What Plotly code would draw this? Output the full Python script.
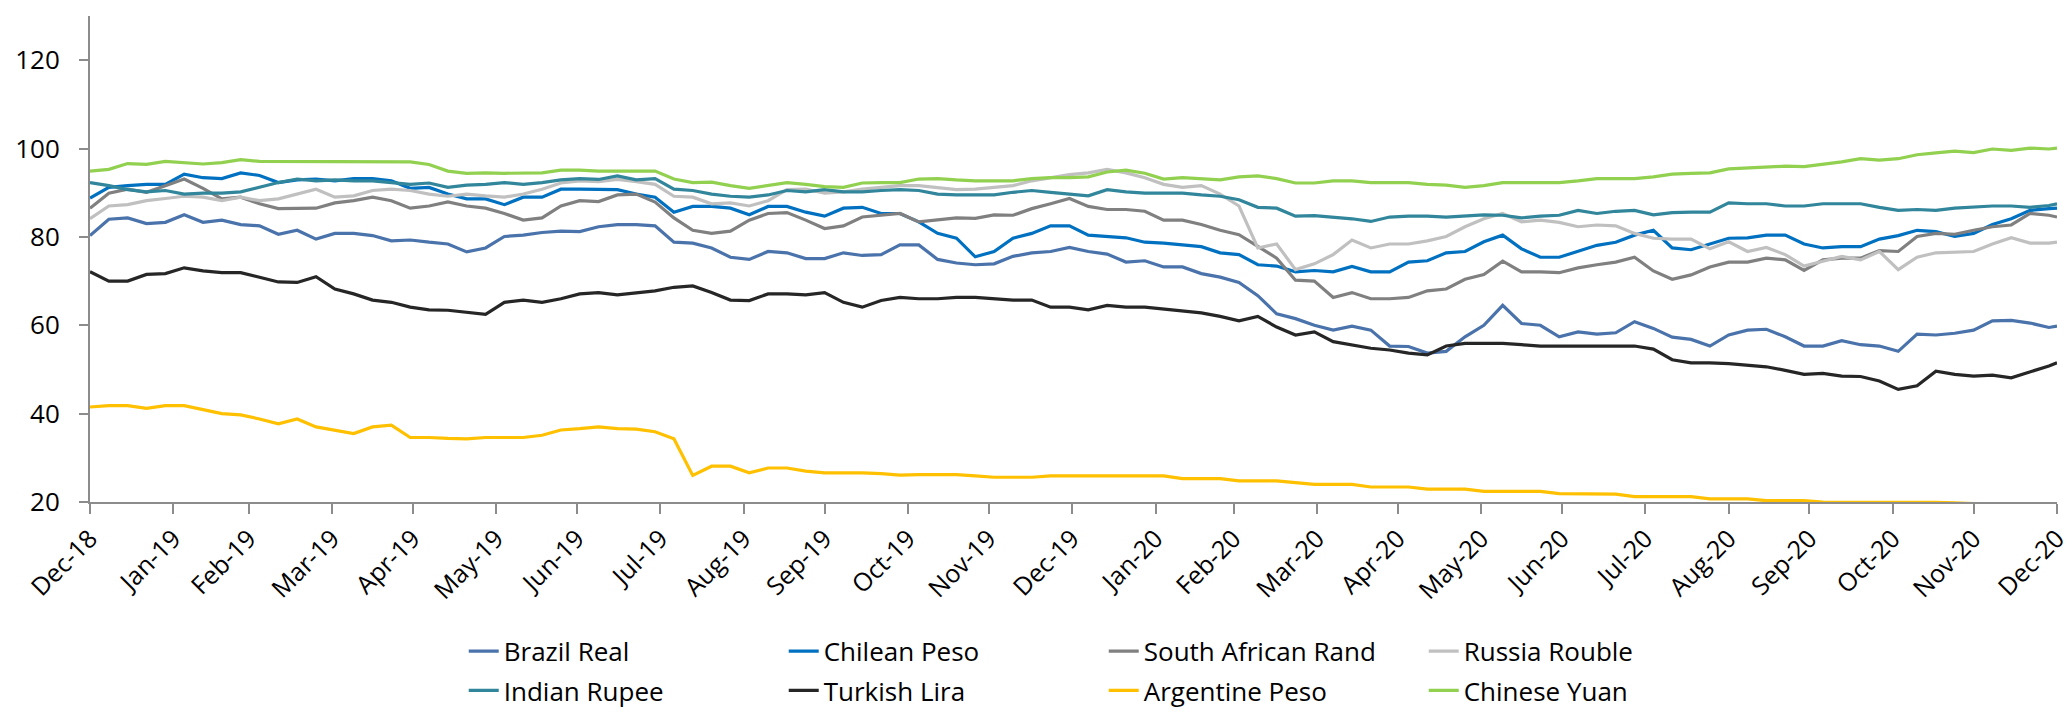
import pandas as pd
import plotly.graph_objects as go

# weekly observations from 31-Dec-2018, last point 31-Dec-2020 (index, Dec-18 = ~100 basis)
DATES = list(pd.date_range("2018-12-31", periods=105, freq="7D")) + [pd.Timestamp("2020-12-31")]

BRAZIL_REAL = [
    80.3, 84.0, 84.3, 83.0, 83.3, 85.0, 83.3, 83.8, 82.8, 82.5, 80.6, 81.5, 79.5, 80.8, 80.8, 80.3, 79.1, 79.3, 78.8, 78.4, 76.6, 77.5, 80.1, 80.4, 81.0, 81.3,
    81.2, 82.3, 82.8, 82.8, 82.5, 78.8, 78.6, 77.5, 75.4, 74.9, 76.7, 76.4, 75.1, 75.1, 76.4, 75.8, 76.0, 78.2, 78.2, 74.9, 74.1, 73.7, 73.9, 75.6, 76.4, 76.7,
    77.6, 76.7, 76.1, 74.3, 74.6, 73.2, 73.2, 71.7, 70.9, 69.7, 66.7, 62.6, 61.5, 60.0, 58.9, 59.8, 58.9, 55.3, 55.2, 53.7, 54.1, 57.4, 60.0, 64.5, 60.4, 60.0,
    57.4, 58.5, 58.0, 58.3, 60.8, 59.3, 57.3, 56.8, 55.3, 57.8, 58.9, 59.1, 57.4, 55.3, 55.3, 56.5, 55.6, 55.3, 54.1, 58.0, 57.8, 58.2, 58.9, 61.0, 61.1, 60.5, 59.5, 59.8,
]
CHILEAN_PESO = [
    88.8, 91.2, 91.6, 91.9, 91.9, 94.2, 93.4, 93.2, 94.5, 93.9, 92.3, 92.9, 93.1, 92.7, 93.2, 93.2, 92.7, 91.0, 91.2, 89.7, 88.6, 88.6, 87.3, 89.0, 89.0, 90.8,
    90.8, 90.7, 90.7, 89.7, 89.0, 85.6, 86.9, 86.9, 86.5, 85.0, 86.9, 86.9, 85.6, 84.7, 86.5, 86.7, 85.3, 85.3, 83.4, 80.8, 79.7, 75.5, 76.7, 79.7, 80.8, 82.5,
    82.5, 80.4, 80.1, 79.8, 78.8, 78.6, 78.2, 77.8, 76.4, 76.0, 73.7, 73.4, 72.1, 72.4, 72.1, 73.3, 72.1, 72.1, 74.3, 74.6, 76.4, 76.7, 78.9, 80.4, 77.3, 75.4,
    75.4, 76.7, 78.1, 78.8, 80.4, 81.5, 77.5, 77.1, 78.4, 79.7, 79.8, 80.4, 80.4, 78.4, 77.5, 77.8, 77.8, 79.5, 80.3, 81.5, 81.2, 80.1, 80.8, 82.8, 84.1, 86.0, 86.4, 86.5,
]
SOUTH_AFRICAN_RAND = [
    86.5, 89.9, 90.8, 90.1, 91.6, 93.1, 91.0, 88.6, 89.0, 87.5, 86.4, 86.5, 86.5, 87.7, 88.2, 89.0, 88.2, 86.5, 87.0, 87.9, 87.0, 86.5, 85.3, 83.8, 84.3, 87.0,
    88.2, 88.0, 89.5, 89.7, 87.9, 84.3, 81.5, 80.8, 81.3, 83.8, 85.3, 85.5, 83.8, 81.9, 82.5, 84.5, 84.9, 85.3, 83.4, 83.8, 84.3, 84.2, 85.0, 84.9, 86.4, 87.5,
    88.7, 86.9, 86.2, 86.2, 85.8, 83.8, 83.8, 82.8, 81.5, 80.5, 77.8, 75.2, 70.2, 70.0, 66.3, 67.4, 66.0, 66.0, 66.3, 67.8, 68.2, 70.4, 71.5, 74.5, 72.1, 72.1,
    71.9, 73.0, 73.7, 74.3, 75.4, 72.3, 70.4, 71.4, 73.2, 74.3, 74.3, 75.2, 74.8, 72.4, 74.8, 75.2, 75.2, 76.9, 76.7, 80.1, 80.8, 80.6, 81.5, 82.3, 82.7, 85.3, 84.9, 84.5,
]
RUSSIA_ROUBLE = [
    84.1, 87.0, 87.3, 88.2, 88.7, 89.2, 89.0, 88.2, 89.0, 88.2, 88.6, 89.7, 90.8, 89.0, 89.3, 90.5, 90.8, 90.5, 89.7, 89.2, 89.7, 89.3, 89.0, 89.7, 90.8, 92.2,
    92.7, 92.5, 93.0, 92.5, 91.9, 89.2, 89.0, 87.5, 87.7, 87.0, 88.2, 90.7, 90.8, 89.9, 90.2, 90.8, 91.2, 91.6, 91.6, 91.2, 90.7, 90.8, 91.2, 91.6, 92.7, 93.4,
    94.1, 94.5, 95.3, 94.5, 93.4, 91.9, 91.2, 91.6, 89.7, 87.0, 77.5, 78.4, 72.6, 73.9, 76.0, 79.3, 77.5, 78.4, 78.4, 79.1, 80.1, 82.3, 84.1, 85.3, 83.4, 83.8,
    83.3, 82.3, 82.7, 82.5, 80.8, 79.7, 79.5, 79.5, 77.3, 78.9, 76.7, 77.6, 76.0, 73.4, 74.5, 75.6, 74.8, 76.7, 72.6, 75.4, 76.4, 76.6, 76.7, 78.4, 79.8, 78.6, 78.6, 78.8,
]
INDIAN_RUPEE = [
    92.3, 91.6, 90.7, 90.2, 90.5, 89.7, 89.9, 89.9, 90.2, 91.2, 92.3, 93.1, 92.7, 92.9, 92.7, 92.7, 92.3, 91.9, 92.2, 91.2, 91.7, 91.9, 92.3, 91.9, 92.3, 92.9,
    93.2, 93.0, 93.8, 92.9, 93.2, 90.8, 90.5, 89.7, 89.2, 89.0, 89.5, 90.5, 90.2, 90.7, 90.2, 90.2, 90.5, 90.7, 90.5, 89.7, 89.5, 89.5, 89.5, 90.1, 90.5, 90.1,
    89.7, 89.3, 90.7, 90.2, 89.9, 89.9, 89.9, 89.5, 89.2, 88.4, 86.7, 86.5, 84.7, 84.8, 84.5, 84.1, 83.5, 84.5, 84.7, 84.7, 84.5, 84.7, 85.0, 84.9, 84.3, 84.7,
    84.9, 86.0, 85.3, 85.8, 86.0, 85.0, 85.5, 85.6, 85.6, 87.7, 87.5, 87.5, 87.0, 87.0, 87.5, 87.5, 87.5, 86.7, 86.0, 86.2, 86.0, 86.5, 86.7, 87.0, 87.0, 86.7, 87.1, 87.5,
]
TURKISH_LIRA = [
    72.1, 70.0, 70.0, 71.5, 71.7, 73.0, 72.3, 71.9, 71.9, 70.9, 69.8, 69.7, 71.0, 68.2, 67.1, 65.7, 65.2, 64.1, 63.5, 63.4, 63.0, 62.5, 65.2, 65.7, 65.2, 66.0,
    67.1, 67.4, 66.9, 67.4, 67.8, 68.6, 68.9, 67.4, 65.7, 65.6, 67.1, 67.1, 66.9, 67.4, 65.2, 64.1, 65.6, 66.3, 66.0, 66.0, 66.3, 66.3, 66.0, 65.7, 65.7, 64.1,
    64.1, 63.5, 64.5, 64.1, 64.1, 63.7, 63.2, 62.8, 62.0, 61.0, 62.0, 59.6, 57.8, 58.5, 56.3, 55.6, 54.8, 54.4, 53.7, 53.3, 55.3, 55.9, 55.9, 55.9, 55.6, 55.3,
    55.3, 55.3, 55.3, 55.3, 55.3, 54.6, 52.2, 51.5, 51.5, 51.3, 50.9, 50.6, 49.8, 48.9, 49.1, 48.5, 48.4, 47.4, 45.5, 46.3, 49.6, 48.9, 48.5, 48.7, 48.1, 49.4, 50.8, 51.5,
]
ARGENTINE_PESO = [
    41.5, 41.8, 41.8, 41.2, 41.8, 41.8, 40.9, 40.0, 39.7, 38.8, 37.7, 38.8, 37.0, 36.3, 35.5, 37.0, 37.4, 34.6, 34.6, 34.4, 34.3, 34.6, 34.6, 34.6, 35.1, 36.3,
    36.6, 37.0, 36.6, 36.5, 35.9, 34.3, 26.0, 28.1, 28.1, 26.6, 27.7, 27.7, 27.0, 26.6, 26.6, 26.6, 26.4, 26.1, 26.2, 26.2, 26.2, 25.9, 25.6, 25.6, 25.6, 25.9,
    25.9, 25.9, 25.9, 25.9, 25.9, 25.9, 25.3, 25.3, 25.3, 24.8, 24.8, 24.8, 24.4, 24.0, 24.0, 24.0, 23.4, 23.4, 23.4, 22.9, 22.9, 22.9, 22.4, 22.4, 22.4, 22.4,
    21.9, 21.9, 21.8, 21.8, 21.2, 21.2, 21.2, 21.2, 20.7, 20.7, 20.7, 20.3, 20.3, 20.3, 20.0, 20.0, 20.0, 19.95, 19.95, 19.9, 19.9, 19.8, 19.6, 19.4, 19.3, 19.2, 19.1, 19.0,
]
CHINESE_YUAN = [
    94.9, 95.3, 96.6, 96.4, 97.1, 96.8, 96.5, 96.8, 97.5, 97.1, 97.1, 97.1, 97.1, 97.1, 97.1, 97.1, 97.1, 97.0, 96.4, 94.9, 94.4, 94.5, 94.4, 94.4, 94.5, 95.1,
    95.1, 94.9, 94.9, 94.9, 94.9, 93.1, 92.3, 92.4, 91.6, 91.0, 91.7, 92.3, 91.9, 91.4, 91.2, 92.2, 92.3, 92.3, 93.1, 93.2, 92.9, 92.7, 92.7, 92.7, 93.2, 93.4,
    93.4, 93.6, 94.7, 95.1, 94.4, 93.1, 93.4, 93.2, 92.9, 93.6, 93.8, 93.2, 92.2, 92.2, 92.7, 92.7, 92.3, 92.3, 92.3, 91.9, 91.7, 91.2, 91.6, 92.3, 92.3, 92.3,
    92.3, 92.7, 93.2, 93.2, 93.2, 93.6, 94.2, 94.4, 94.5, 95.4, 95.6, 95.9, 96.0, 95.9, 96.4, 97.0, 97.7, 97.4, 97.7, 98.6, 99.0, 99.4, 99.1, 99.9, 99.6, 100.1, 99.9, 100.1,
]

# (name, values, colour, legend row)
SERIES = [
    ("Brazil Real", BRAZIL_REAL, "#4A73AB", "legend"),
    ("Chilean Peso", CHILEAN_PESO, "#0070C0", "legend"),
    ("South African Rand", SOUTH_AFRICAN_RAND, "#808080", "legend"),
    ("Russia Rouble", RUSSIA_ROUBLE, "#C0C0C0", "legend"),
    ("Indian Rupee", INDIAN_RUPEE, "#31869B", "legend2"),
    ("Turkish Lira", TURKISH_LIRA, "#262626", "legend2"),
    ("Argentine Peso", ARGENTINE_PESO, "#FFC000", "legend2"),
    ("Chinese Yuan", CHINESE_YUAN, "#92D050", "legend2"),
]

# month-end ticks, Dec-18 .. Dec-20
MONTH_ENDS = pd.date_range("2019-01-01", "2021-01-01", freq="MS") - pd.Timedelta(days=1)

AXIS_GREY = "#8C8C8C"
FONT = "Open Sans"

fig = go.Figure()
for name, vals, color, leg in SERIES:
    assert len(vals) == len(DATES), (name, len(vals))
    fig.add_trace(go.Scatter(
        x=DATES, y=vals,
        mode="lines",
        name=name,
        line=dict(color=color, width=3.2),
        legend=leg,
    ))

legend_common = dict(
    orientation="h",
    xanchor="left", yanchor="middle",
    x=0.19,
    entrywidth=275, entrywidthmode="pixels",
    font=dict(family=FONT, size=26, color="#000000"),
    bgcolor="rgba(0,0,0,0)",
    tracegroupgap=0,
)

fig.update_layout(
    width=2072, height=714,
    margin=dict(l=82, r=23, t=8, b=211),
    paper_bgcolor="white",
    plot_bgcolor="white",
    font=dict(family=FONT, size=26, color="#000000"),
    legend=dict(legend_common, y=-0.307),
    legend2=dict(legend_common, y=-0.388),
    xaxis=dict(
        type="date",
        range=["2018-12-31", "2020-12-31"],
        tickvals=list(MONTH_ENDS),
        tickformat="%b-%y",
        tickangle=-45,
        ticks="outside", ticklen=10, tickwidth=2, tickcolor=AXIS_GREY,
        showline=True, linecolor=AXIS_GREY, linewidth=2,
        showgrid=False, zeroline=False,
        tickfont=dict(family=FONT, size=25, color="#000000"),
    ),
    yaxis=dict(
        range=[20, 130],
        tickvals=[20, 40, 60, 80, 100, 120],
        ticks="outside", ticklen=9, tickwidth=2, tickcolor=AXIS_GREY,
        ticklabelstandoff=14,
        showline=True, linecolor=AXIS_GREY, linewidth=2,
        showgrid=False, zeroline=False,
        tickfont=dict(family=FONT, size=26, color="#000000"),
    ),
)

fig.write_html("out.html")
